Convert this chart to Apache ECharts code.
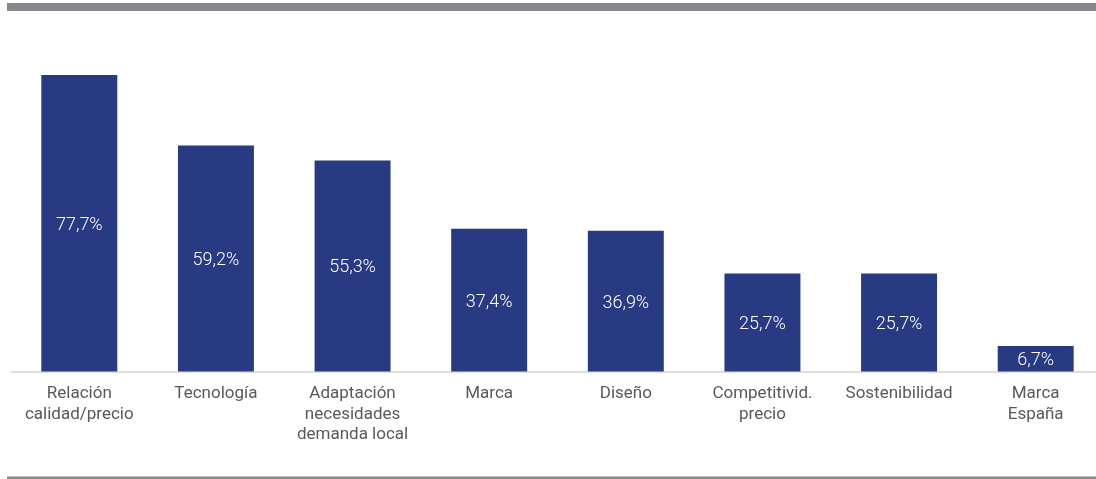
<!DOCTYPE html>
<html><head><meta charset="utf-8">
<script src="https://cdn.jsdelivr.net/npm/echarts@6/dist/echarts.min.js"></script>
<style>html,body{margin:0;padding:0;background:#fff;overflow:hidden}#c{width:1104px;height:479px}</style>
</head><body><div id="c"></div>
<script>
const categories = ["Relación\ncalidad/precio","Tecnología","Adaptación\nnecesidades\ndemanda local","Marca","Diseño","Competitivid.\nprecio","Sostenibilidad","Marca\nEspaña"];
const values = [77.7,59.2,55.3,37.4,36.9,25.7,25.7,6.7];
const chart = echarts.init(document.getElementById('c'), null, {renderer:'canvas'});
chart.setOption({
  animation:false,
  backgroundColor:'#fff',
  grid:{left:11,right:0,top:66.2,height:305.3,containLabel:false},
  xAxis:{type:'category',data:categories,
    axisLine:{show:true,lineStyle:{color:'#d3d3d3',width:1.5}},
    axisTick:{show:false},
    axisLabel:{interval:0,color:'#595959',fontFamily:'Roboto',fontSize:17,fontWeight:400,lineHeight:20.5,margin:12}},
  yAxis:{type:'value',min:0,max:80,show:false,splitLine:{show:false}},
  series:[{type:'bar',data:values,barWidth:'55.6%',
    itemStyle:{color:'#283a82'},
    label:{show:true,position:'inside',offset:[0,2],color:'#fff',fontFamily:'Roboto',fontSize:18,fontWeight:300,
      formatter:p=>p.value.toFixed(1).replace('.',',')+'%'}}],
  graphic:[
    {type:'rect',shape:{x:7,y:3,width:1100,height:8},style:{fill:'#88888c'}},
    {type:'rect',shape:{x:7,y:476.5,width:1100,height:2.5},style:{fill:'#8a8a8a'}}
  ]
});
</script></body></html>
